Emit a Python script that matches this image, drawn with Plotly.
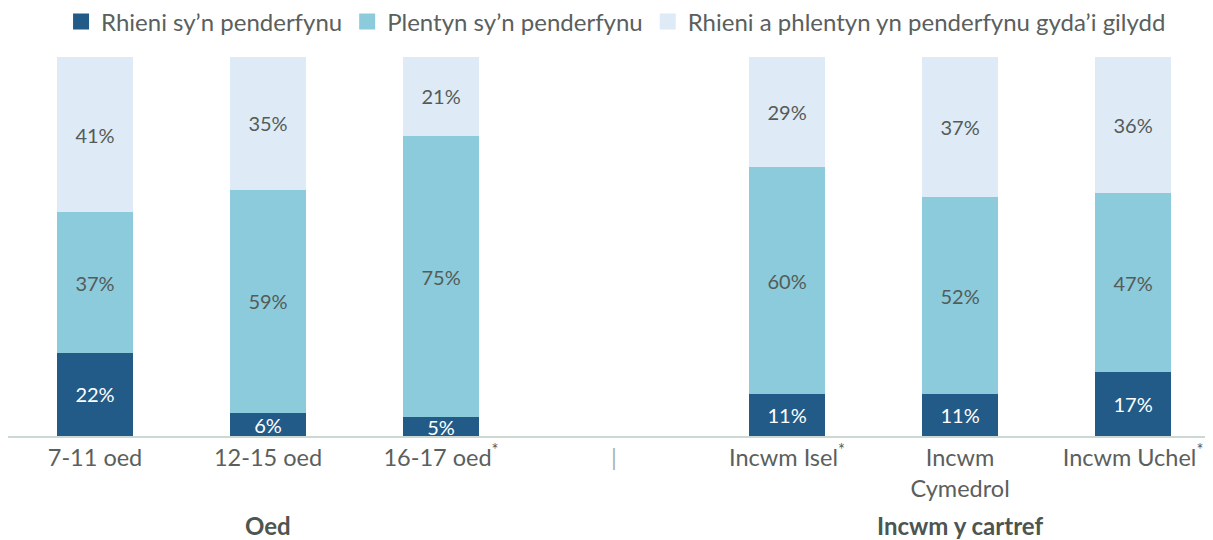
import plotly.graph_objects as go

categories = ["7-11 oed", "12-15 oed", "16-17 oed<sup>*</sup>", "<span style='color:#A9B3AF'>|</span>",
              "Incwm Isel<sup>*</sup>", "Incwm<br>Cymedrol", "Incwm Uchel<sup>*</sup>"]
series_names = ["Rhieni sy’n penderfynu", "Plentyn sy’n penderfynu",
                "Rhieni a phlentyn yn penderfynu gyda’i gilydd"]
rhieni = [22, 6, 5, None, 11, 11, 17]
plentyn = [37, 59, 75, None, 60, 52, 47]
gilydd = [41, 35, 21, None, 29, 37, 36]
group_labels = ["Oed", "Incwm y cartref"]

colors = ["#235B88", "#8BCBDB", "#DEEBF6"]
text_colors = ["#FFFFFF", "#555B58", "#555B58"]

x = list(range(len(categories)))
fig = go.Figure()
for name, vals, c, tc in zip(series_names, [rhieni, plentyn, gilydd], colors, text_colors):
    xs = [xi for xi, v in zip(x, vals) if v is not None]
    ys = [v for v in vals if v is not None]
    fig.add_trace(go.Bar(
        x=xs, y=ys, name=name, marker=dict(color=c, line=dict(width=0)),
        width=0.44, showlegend=False,
        text=[f"{v}%" for v in ys],
        textposition="inside", insidetextanchor="middle",
        textfont=dict(color=tc, size=20, family="Lato"),
        hoverinfo="skip",
    ))
for name, c in zip(series_names, colors):
    fig.add_trace(go.Scatter(
        x=[None], y=[None], mode="markers", name=name,
        marker=dict(symbol="square", size=17, color=c),
        showlegend=True, hoverinfo="skip",
    ))

fig.update_layout(
    barmode="stack", barnorm="percent",
    width=1205, height=532,
    margin=dict(l=0, r=0, t=49, b=104),
    paper_bgcolor="white", plot_bgcolor="white",
    font=dict(family="Lato", color="#5A605D"),
    uniformtext=dict(mode="show", minsize=20),
    legend=dict(orientation="h", x=0.5046, xanchor="center", xref="container",
                y=0.974, yanchor="middle", yref="container",
                font=dict(size=24, color="#5A605D"), traceorder="normal",
                itemwidth=30, tracegroupgap=0),
    showlegend=True,
)
fig.update_xaxes(
    tickmode="array", tickvals=x, ticktext=categories,
    range=[-0.503, 6.462], showgrid=False, zeroline=False,
    showline=True, linecolor="#CCD9D3", linewidth=1.5,
    ticks="", tickfont=dict(size=23.5, color="#5A605D"),
)
fig.update_yaxes(range=[0, 100], visible=False, showgrid=False)

fig.add_annotation(x=1, y=0, xref="x", yref="paper", yshift=-89, text=f"<b>{group_labels[0]}</b>",
                   showarrow=False, font=dict(size=24, color="#4D5551"), yanchor="middle")
fig.add_annotation(x=5, y=0, xref="x", yref="paper", yshift=-89, text=f"<b>{group_labels[1]}</b>",
                   showarrow=False, font=dict(size=24, color="#4D5551"), yanchor="middle")

fig.write_html("out.html")
